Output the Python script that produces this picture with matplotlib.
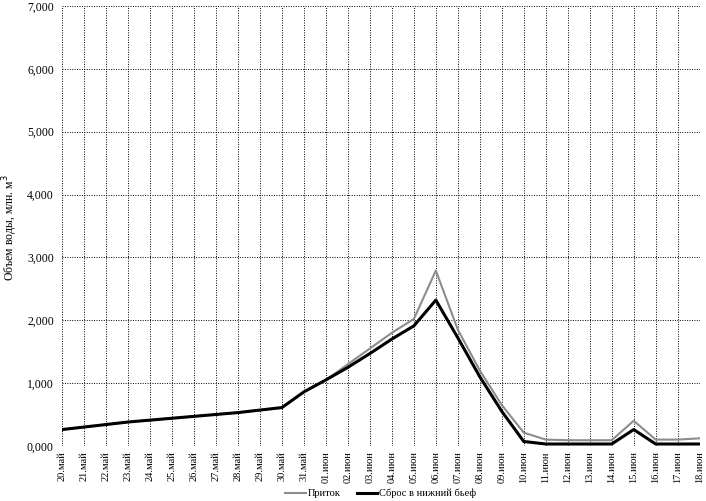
import matplotlib.pyplot as plt
import matplotlib.ticker as mticker
import numpy as np

plt.rcParams['font.family'] = ['Liberation Serif', 'DejaVu Serif']

dates = ['20.май', '21.май', '22.май', '23.май', '24.май', '25.май', '26.май', '27.май',
         '28.май', '29.май', '30.май', '31.май', '01.июн', '02.июн', '03.июн', '04.июн',
         '05.июн', '06.июн', '07.июн', '08.июн', '09.июн', '10.июн', '11.июн', '12.июн',
         '13.июн', '14.июн', '15.июн', '16.июн', '17.июн', '18.июн']

# млн. м3
inflow = [0.26, 0.30, 0.34, 0.38, 0.41, 0.44, 0.47, 0.50, 0.53, 0.57, 0.61, 0.86,
          1.05, 1.30, 1.55, 1.80, 2.02, 2.79, 1.85, 1.20, 0.65, 0.21, 0.10, 0.09,
          0.09, 0.09, 0.40, 0.10, 0.10, 0.12]
release = [0.26, 0.30, 0.34, 0.38, 0.41, 0.44, 0.47, 0.50, 0.53, 0.57, 0.61, 0.86,
           1.05, 1.25, 1.47, 1.70, 1.91, 2.32, 1.72, 1.10, 0.55, 0.07, 0.03, 0.03,
           0.03, 0.03, 0.26, 0.03, 0.03, 0.03]

x = np.arange(len(dates))

fig = plt.figure(figsize=(7.06, 5.01), dpi=100)
ax = fig.add_axes([0.088, 0.11, 0.903, 0.878])

ax.plot(x, inflow, color='#8c8c8c', lw=1.5, label='Приток')
ax.plot(x, release, color='black', lw=2.2, label='Сброс в нижний бьеф')

ax.set_xlim(0, len(dates) - 1)
ax.set_ylim(0, 7)
ax.set_xticks(x)
ax.set_xticklabels(dates, rotation=90, fontsize=7.5)
ax.yaxis.set_major_locator(mticker.MultipleLocator(1))
ax.yaxis.set_major_formatter(mticker.FuncFormatter(lambda v, p: f'{v:.3f}'.replace('.', ',')))
ax.tick_params(axis='y', labelsize=8.5, length=0, pad=6)
ax.tick_params(axis='x', length=0, pad=4)

ax.grid(True, color='black', linestyle=(0, (1, 1.5)), linewidth=0.7)
for s in ax.spines.values():
    s.set_visible(False)

fig.text(10 / 706, 0.545, 'Объем воды, млн. м$^3$', rotation=90, fontsize=8.5,
         ha='center', va='center')

ax.legend(loc='center', bbox_to_anchor=(0.5, -0.108), ncol=2, frameon=False,
          fontsize=7.5, handlelength=2, columnspacing=1.5, handletextpad=0.2)

fig.savefig('out.png', dpi=100)
